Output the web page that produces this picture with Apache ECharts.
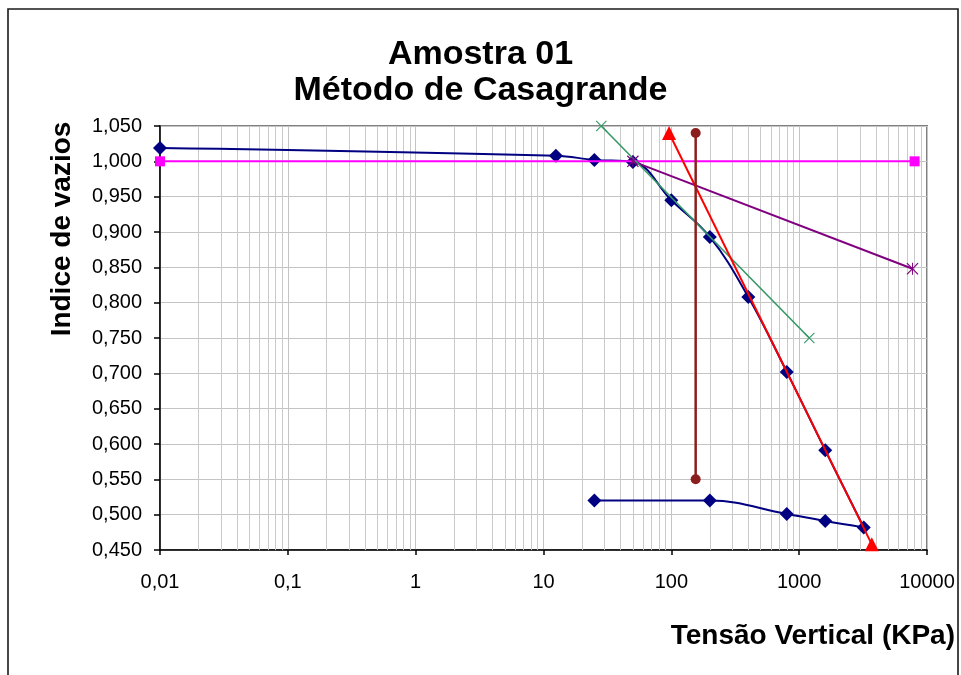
<!DOCTYPE html>
<html>
<head>
<meta charset="utf-8">
<script src="https://cdn.jsdelivr.net/npm/echarts@6/dist/echarts.min.js"></script>
<style>
  html, body { margin: 0; padding: 0; background: #fff; }
  #chart { width: 961px; height: 675px; }
</style>
</head>
<body>
<div id="chart"></div>
<script>
// Curva de compressibilidade: carregamento seguido de descarregamento
const tensaoEnsaio = [0.01, 12.5, 25, 50, 100, 200, 400, 800, 1600, 3200, 1600, 800, 200, 25];
const indiceEnsaio = [1.019, 1.008, 1.002, 0.999, 0.945, 0.893, 0.808, 0.702, 0.591, 0.482, 0.491, 0.501, 0.520, 0.520];

// Construção de Casagrande
const tensaoHorizontal = [0.01, 8000];
const indiceHorizontal = [1.0, 1.0];
const tensaoBissetriz = [50, 7700];
const indiceBissetriz = [1.0, 0.848];
const tensaoTangente = [28.3, 1200];
const indiceTangente = [1.05, 0.75];
const tensaoVirgem = [96, 3700];
const indiceVirgem = [1.04, 0.458];
const tensaoPreAdensamento = [155, 155];
const indicePreAdensamento = [1.04, 0.55];

// Rótulos do eixo das tensões (escala logarítmica)
const rotulosX = ['0,01', '0,1', '1', '10', '100', '1000', '10000'];

const zip = (xs, ys) => xs.map((x, i) => [x, ys[i]]);

// Linhas secundárias da grade logarítmica (2..9 em cada década)
const linhasMenores = [];
for (let d = -2; d <= 3; d++) {
  for (let k = 2; k <= 9; k++) linhasMenores.push({ xAxis: k * Math.pow(10, d) });
}

// Marcadores em forma de "x" e de asterisco
const simboloX = 'path://M0,1.4L1.4,0L20,18.6L18.6,20Z M18.6,0L20,1.4L1.4,20L0,18.6Z';
const simboloAsterisco = 'path://M0,1.4L1.4,0L20,18.6L18.6,20Z M18.6,0L20,1.4L1.4,20L0,18.6Z M9.2,0L10.8,0L10.8,20L9.2,20Z';

const fonte = 'Liberation Sans, Arial, sans-serif';
const chart = echarts.init(document.getElementById('chart'), null, { renderer: 'canvas' });

chart.setOption({
  animation: false,
  backgroundColor: '#ffffff',
  title: {
    text: 'Amostra 01\nMétodo de Casagrande',
    left: 'center',
    top: 32,
    textStyle: { fontFamily: fonte, fontSize: 34, fontWeight: 'bold', color: '#000', lineHeight: 35.5 }
  },
  graphic: [
    {
      type: 'rect', silent: true, z: 100,
      shape: { x: 8, y: 9, width: 950, height: 720 },
      style: { fill: 'none', stroke: '#1a1a1a', lineWidth: 1.6 }
    },
    {
      type: 'text', silent: true,
      x: 62.5, y: 229, rotation: Math.PI / 2,
      style: {
        text: 'Indice de vazios', fontFamily: fonte, fontSize: 28, fontWeight: 'bold',
        fill: '#000', align: 'center', verticalAlign: 'middle'
      }
    },
    {
      type: 'text', silent: true,
      x: 955, y: 636,
      style: {
        text: 'Tensão Vertical (KPa)', fontFamily: fonte, fontSize: 28, fontWeight: 'bold',
        fill: '#000', align: 'right', verticalAlign: 'middle'
      }
    }
  ],
  grid: {
    left: 160, right: 34, top: 126, bottom: 125,
    show: true, borderColor: '#808080', borderWidth: 2, backgroundColor: '#fff'
  },
  xAxis: {
    type: 'log', logBase: 10, min: 0.01, max: 10000, splitNumber: 6,
    axisLine: { show: true, lineStyle: { color: '#000', width: 1.5 } },
    axisTick: { show: true, inside: false, length: 5, lineStyle: { color: '#000', width: 1.5 } },
    axisLabel: {
      color: '#000', fontFamily: fonte, fontSize: 20, margin: 22,
      formatter: v => rotulosX[Math.round(Math.log10(v)) + 2]
    },
    splitLine: { show: true, lineStyle: { color: '#c4c4c4', width: 1 } },
    minorTick: { show: false },
    minorSplitLine: { show: false }
  },
  yAxis: {
    type: 'value', min: 0.45, max: 1.05, interval: 0.05,
    axisLine: { show: true, onZero: false, lineStyle: { color: '#000', width: 1.5 } },
    axisTick: { show: true, inside: false, length: 6, lineStyle: { color: '#000', width: 1.5 } },
    axisLabel: {
      color: '#000', fontFamily: fonte, fontSize: 20, margin: 18,
      formatter: v => v.toFixed(3).replace('.', ',')
    },
    splitLine: { show: true, lineStyle: { color: '#c4c4c4', width: 1 } }
  },
  series: [
    {
      // grade secundária do eixo logarítmico
      type: 'line', data: [], silent: true, z: 1,
      markLine: {
        silent: true, symbol: 'none', z: 1, animation: false,
        label: { show: false },
        lineStyle: { color: '#cacaca', width: 1, type: 'solid' },
        emphasis: { disabled: true },
        data: linhasMenores
      }
    },
    {
      name: 'Ensaio', type: 'line', z: 3, clip: false,
      data: zip(tensaoEnsaio, indiceEnsaio),
      smooth: 0.4,
      symbol: 'diamond', symbolSize: 14,
      lineStyle: { color: '#000080', width: 2 },
      itemStyle: { color: '#000080' }
    },
    {
      name: 'Horizontal', type: 'line', z: 4, clip: false,
      data: zip(tensaoHorizontal, indiceHorizontal),
      symbol: 'rect', symbolSize: 10,
      lineStyle: { color: '#ff00ff', width: 2 },
      itemStyle: { color: '#ff00ff' }
    },
    {
      name: 'Bissetriz', type: 'line', z: 5, clip: false,
      data: zip(tensaoBissetriz, indiceBissetriz),
      symbol: simboloAsterisco, symbolSize: 12,
      lineStyle: { color: '#800080', width: 2 },
      itemStyle: { color: '#800080' }
    },
    {
      name: 'Tangente', type: 'line', z: 5, clip: false,
      data: zip(tensaoTangente, indiceTangente),
      symbol: simboloX, symbolSize: 11,
      lineStyle: { color: '#339966', width: 1.6 },
      itemStyle: { color: '#339966' }
    },
    {
      name: 'Reta virgem', type: 'line', z: 5, clip: false,
      data: zip(tensaoVirgem, indiceVirgem),
      symbol: 'triangle', symbolSize: 14,
      lineStyle: { color: '#ff0000', width: 2 },
      itemStyle: { color: '#ff0000' }
    },
    {
      name: 'Pré-adensamento', type: 'line', z: 5, clip: false,
      data: zip(tensaoPreAdensamento, indicePreAdensamento),
      symbol: 'circle', symbolSize: 10,
      lineStyle: { color: '#8b1f1f', width: 2.5 },
      itemStyle: { color: '#8b1f1f' }
    }
  ]
});
</script>
</body>
</html>
